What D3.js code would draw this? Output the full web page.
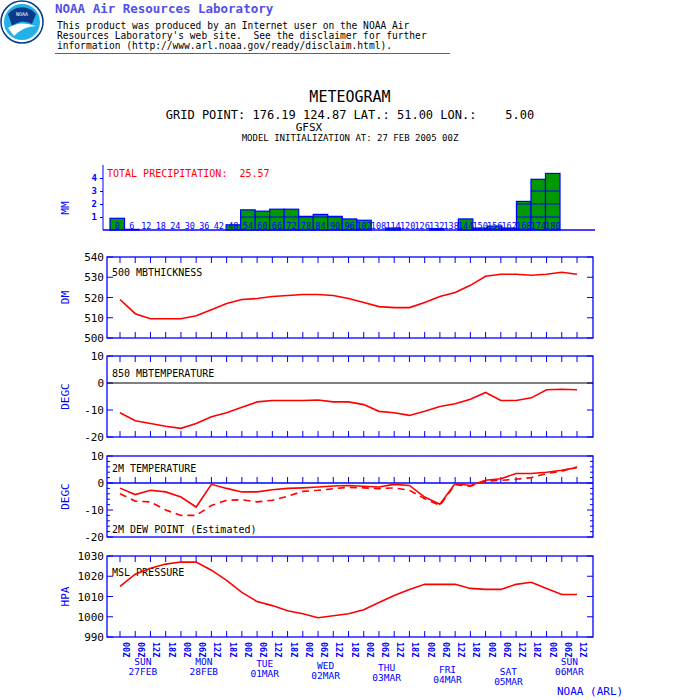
<!DOCTYPE html>
<html><head><meta charset="utf-8">
<script src="https://cdn.jsdelivr.net/npm/d3@7"></script>
<style>body{margin:0;background:#fff}text{font-family:"DejaVu Sans Mono",monospace}</style>
</head><body><svg id="c" width="700" height="700"></svg>
<script>
const hours = d3.range(0, 181, 6);
const precip = [0.9,0.05,0,0,0,0,0,0,0.4,1.55,1.45,1.6,1.6,1.05,1.2,1.05,0.85,0.75,0,0.15,0,0,0.1,0,0.85,0.15,0.3,0.15,2.2,3.9,4.35];
const thickness = [519,512,509.5,509.5,509.5,511,514,517,519,519.5,520.5,521,521.5,521.5,521,519.5,517.5,515.5,515,515,517.5,520.5,522.5,526,530.5,531.5,531.5,531,531.5,532.5,531.5];
const temp850 = [-11,-14,-15,-16,-16.8,-15,-12.5,-11,-9,-7,-6.5,-6.5,-6.5,-6.3,-7,-7,-8,-10.5,-11,-12,-10.5,-8.7,-7.7,-6,-3.5,-6.5,-6.5,-5.5,-2.5,-2.3,-2.5];
const temp2m = [-1.9,-4.3,-2.7,-3.3,-5.2,-8.9,-0.5,-2,-3.3,-3.3,-2.5,-2,-1.8,-1.5,-1.1,-0.9,-1.2,-1.5,-0.5,-0.9,-5.2,-7.9,-0.2,-0.9,1,1.6,3.5,3.5,4,4.7,5.7];
const dew2m = [-4,-6.7,-7,-10,-12,-12,-8.3,-6.4,-6.2,-7,-6.4,-4.9,-3.1,-2.7,-2.1,-1.6,-1.8,-2.1,-1.8,-2.7,-5.8,-8.3,-0.6,-1.2,0.7,1,1.4,2,3.5,4.4,5.9];
const mslp = [1015,1021,1024,1026,1027,1027,1023,1018,1012,1007.5,1005.5,1003,1001.5,999.5,1000.5,1001.5,1003.5,1007,1010.5,1013.5,1016,1016,1016,1014,1013.5,1013.5,1016,1017,1014,1011,1011];
const tickLabels = hours.map(h => String(h % 24).padStart(2, "0") + "Z");
const days = [["SUN","27FEB"],["MON","28FEB"],["TUE","01MAR"],["WED","02MAR"],["THU","03MAR"],["FRI","04MAR"],["SAT","05MAR"],["SUN","06MAR"]];

const blue = "#0000ff", red = "#ff0000";
const svg = d3.select("#c");
const x = d3.scaleLinear().domain([0, 180]).range([120, 577]);
const xl = 107, xr = 593;

// header
svg.append("circle").attr("cx", 22).attr("cy", 22).attr("r", 21).attr("fill", "#fff").attr("stroke", "#003a8c").attr("stroke-width", 1.5);
svg.append("circle").attr("cx", 22).attr("cy", 22).attr("r", 18).attr("fill", "#22b2e8");
svg.append("path").attr("d", "M8,14 A18,18 0 0 1 36,14 L32,24 Q22,18 12,26 Z").attr("fill", "#0b3a8c");
svg.append("path").attr("d", "M8,28 Q20,20 36,26 Q24,26 14,36 Z").attr("fill", "#fff");
svg.append("text").attr("x", 22).attr("y", 16).attr("text-anchor", "middle").attr("font-size", 5).attr("fill", "#fff").text("NOAA");
svg.append("text").attr("x", 55).attr("y", 13).attr("font-size", 12.5).attr("font-weight", "bold").attr("fill", "#5050e8").text("NOAA Air Resources Laboratory");
["This product was produced by an Internet user on the NOAA Air",
 "Resources Laboratory's web site.  See the disclaimer for further",
 "information (http://www.arl.noaa.gov/ready/disclaim.html)."].forEach((t, i) =>
  svg.append("text").attr("x", 57).attr("y", 29 + i * 10).attr("font-size", 9.6).attr("xml:space", "preserve").text(t));
svg.append("line").attr("x1", 55).attr("x2", 450).attr("y1", 53.5).attr("y2", 53.5).attr("stroke", "#5050e8");

// titles
svg.append("text").attr("x", 350).attr("y", 102).attr("text-anchor", "middle").attr("font-size", 15).text("METEOGRAM");
svg.append("text").attr("x", 350).attr("y", 119).attr("text-anchor", "middle").attr("font-size", 12).attr("xml:space", "preserve").text("GRID POINT: 176.19 124.87 LAT.: 51.00 LON.:    5.00");
svg.append("text").attr("x", 309).attr("y", 131).attr("text-anchor", "middle").attr("font-size", 11).text("GFSX");
svg.append("text").attr("x", 350).attr("y", 141).attr("text-anchor", "middle").attr("font-size", 9).text("MODEL INITIALIZATION AT: 27 FEB 2005 00Z");

function ylabel(t, y) {
  svg.append("text").attr("transform", `translate(69,${y}) rotate(-90)`).attr("text-anchor", "middle").attr("font-size", 11).attr("fill", blue).text(t);
}

// precipitation
const xb = d3.scaleBand().domain(hours).range([110, 560]).padding(0);
const yp = d3.scaleLinear().domain([0, 4.5]).range([230, 171.5]);
const gp = svg.append("g");
gp.selectAll("rect").data(hours).join("rect")
  .attr("x", h => xb(h)).attr("width", xb.bandwidth())
  .attr("y", (h, i) => yp(precip[i])).attr("height", (h, i) => 230 - yp(precip[i]))
  .attr("fill", "#009900").attr("stroke", blue).attr("stroke-width", 1.2);
[1, 2, 3].forEach(v => hours.forEach((h, i) => {
  if (precip[i] > v) gp.append("line").attr("x1", xb(h)).attr("x2", xb(h) + xb.bandwidth()).attr("y1", yp(v)).attr("y2", yp(v)).attr("stroke", blue);
}));
gp.selectAll("text.hl").data(hours).join("text").attr("x", h => xb(h) + xb.bandwidth() / 2).attr("y", 229)
  .attr("text-anchor", "middle").attr("font-size", 8.5).attr("fill", blue).text(h => h);
svg.append("g").attr("transform", "translate(103,0)").call(d3.axisLeft(yp).tickValues([1, 2, 3, 4]).tickSize(3).tickFormat(d3.format("d")))
  .call(g => { g.select(".domain").attr("d", "M0,165V230"); g.selectAll("line,path").attr("stroke", blue); g.selectAll("text").attr("fill", blue).attr("font-size", 9).attr("font-weight", "bold"); });
svg.append("line").attr("x1", 103).attr("x2", 595).attr("y1", 230).attr("y2", 230).attr("stroke", blue).attr("stroke-width", 1.5);
svg.append("text").attr("x", 107).attr("y", 177).attr("font-size", 10).attr("fill", red).attr("xml:space", "preserve").text("TOTAL PRECIPITATION:  25.57");
ylabel("MM", 208);

// line panels
function panel(top, bot, dom, step, minor, label, lx, ly, zeroLine) {
  const y = d3.scaleLinear().domain(dom).range([bot, top]);
  const g = svg.append("g");
  g.append("rect").attr("x", xl).attr("y", top).attr("width", xr - xl).attr("height", bot - top).attr("fill", "none").attr("stroke", blue).attr("stroke-width", 1.3);
  const ticks = d3.range(dom[0], dom[1] + 0.001, step);
  const mticks = d3.range(dom[0], dom[1] + 0.001, minor);
  mticks.forEach(v => {
    const len = ticks.includes(v) ? 6 : 3;
    g.append("line").attr("x1", xl).attr("x2", xl + len).attr("y1", y(v)).attr("y2", y(v)).attr("stroke", blue);
    g.append("line").attr("x1", xr).attr("x2", xr - len).attr("y1", y(v)).attr("y2", y(v)).attr("stroke", blue);
  });
  ticks.forEach(v => g.append("text").attr("x", xl - 3).attr("y", y(v) + 4).attr("text-anchor", "end").attr("font-size", 11).text(v));
  const ya = zeroLine ? y(0) : null;
  hours.forEach(h => {
    if (ya != null) g.append("line").attr("x1", x(h)).attr("x2", x(h)).attr("y1", ya).attr("y2", ya - 6).attr("stroke", blue);
    else {
      g.append("line").attr("x1", x(h)).attr("x2", x(h)).attr("y1", bot).attr("y2", bot - 6).attr("stroke", blue);
      g.append("line").attr("x1", x(h)).attr("x2", x(h)).attr("y1", top).attr("y2", top + 6).attr("stroke", blue);
    }
  });
  if (ya != null) g.append("line").attr("x1", xl).attr("x2", xr).attr("y1", ya).attr("y2", ya).attr("stroke", blue).attr("stroke-width", 1.5);
  g.append("text").attr("x", 112).attr("y", top + ly).attr("font-size", 10).text(label);
  ylabel(lx, (top + bot) / 2);
  return y;
}
function series(y, vals, dash) {
  svg.append("path").datum(vals).attr("fill", "none").attr("stroke", red).attr("stroke-width", 1.6)
    .attr("stroke-dasharray", dash || null)
    .attr("d", d3.line().x((v, i) => x(hours[i])).y(v => y(v)));
}
const y1 = panel(257, 338, [500, 540], 10, 10, "500 MBTHICKNESS", "DM", 19);
series(y1, thickness);
const y2 = panel(356, 437, [-20, 10], 10, 10, "850 MBTEMPERATURE", "DEGC", 21);
svg.append("line").attr("x1", xl).attr("x2", xr).attr("y1", y2(0)).attr("y2", y2(0)).attr("stroke", "#000");
series(y2, temp850);
const y3 = panel(456, 537, [-20, 10], 10, 2, "2M TEMPERATURE", "DEGC", 16, true);
svg.append("text").attr("x", 112).attr("y", 533).attr("font-size", 10).text("2M DEW POINT (Estimated)");
series(y3, temp2m);
series(y3, dew2m, "7,5");
const y4 = panel(556, 637, [990, 1030], 10, 10, "MSL PRESSURE", "HPA", 20);
series(y4, mslp);

// x axis labels
const gx = svg.append("g");
hours.forEach((h, i) => gx.append("text").attr("transform", `translate(${x(h) + 3},642) rotate(90)`)
  .attr("font-size", 8.5).attr("font-weight", "bold").attr("fill", blue).text(tickLabels[i]));
const dayY = [665, 665, 667, 669, 671, 673, 675, 665];
days.forEach((d, i) => {
  const cx = x(Math.min(i * 24 + 9, 177));
  gx.append("text").attr("x", cx).attr("y", dayY[i]).attr("text-anchor", "middle").attr("font-size", 9.5).attr("fill", blue).text(d[0]);
  gx.append("text").attr("x", cx).attr("y", dayY[i] + 10).attr("text-anchor", "middle").attr("font-size", 9.5).attr("fill", blue).text(d[1]);
});
svg.append("text").attr("x", 557).attr("y", 695).attr("font-size", 11).attr("fill", blue).attr("xml:space", "preserve").text("NOAA (ARL)");
</script></body></html>
